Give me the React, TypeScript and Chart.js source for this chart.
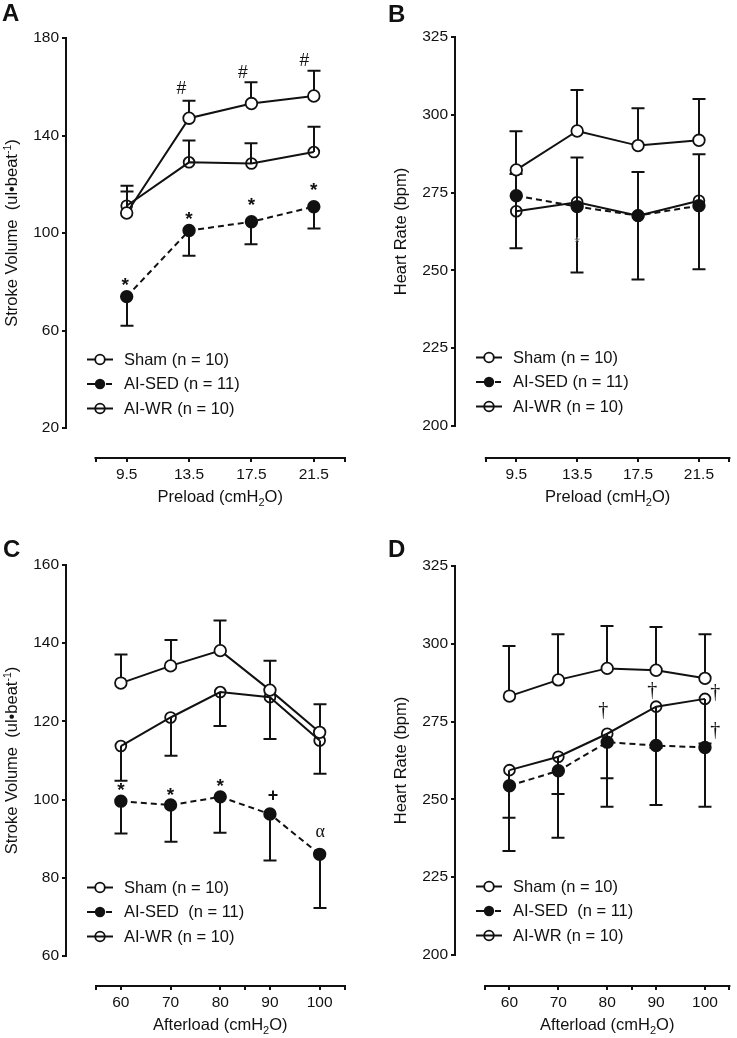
import React, { useEffect, useRef } from "react";
import { Chart, registerables } from "chart.js";

Chart.register(...registerables);

// ---------------- Data ----------------
const preload = [9.5, 13.5, 17.5, 21.5];
const afterload = [60, 70, 80, 90, 100];

// Panel A: stroke volume vs preload
const svPreSham = [108.2, 147.1, 153.1, 156.2];
const svPreShamErr = [117.0, 154.3, 161.8, 166.6];
const svPreSed = [73.9, 101.0, 104.6, 110.8];
const svPreSedErr = [62.0, 90.7, 95.4, 101.8];
const svPreWr = [111.2, 129.0, 128.5, 133.2];
const svPreWrErr = [119.4, 137.9, 136.8, 143.6];

// Panel B: heart rate vs preload
const hrPreSham = [282.3, 294.8, 290.1, 291.8];
const hrPreShamErr = [294.7, 308.0, 302.1, 305.1];
const hrPreSed = [274.0, 270.5, 267.6, 270.8];
const hrPreSedErr = [257.1, 249.3, 247.1, 250.4];
const hrPreWr = [269.0, 271.9, 267.6, 272.4];
const hrPreWrErr = [281.0, 286.3, 281.6, 287.3];

// Panel C: stroke volume vs afterload
const svAftSham = [129.8, 134.2, 138.1, 128.0, 117.2];
const svAftShamErr = [137.1, 140.8, 145.8, 135.5, 124.4];
const svAftSed = [99.6, 98.6, 100.7, 96.3, 86.0];
const svAftSedErr = [91.3, 89.2, 91.5, 84.4, 72.3];
const svAftWr = [113.7, 121.0, 127.5, 126.2, 115.1];
const svAftWrErr = [104.8, 111.2, 118.8, 115.5, 106.6];

// Panel D: heart rate vs afterload
const hrAftSham = [283.2, 288.4, 292.1, 291.5, 288.9];
const hrAftShamErr = [299.3, 303.1, 305.7, 305.4, 303.1];
const hrAftSed = [254.4, 259.2, 268.4, 267.3, 266.7];
const hrAftSedErr = [233.4, 237.7, 247.6, 248.2, 247.6];
const hrAftWr = [259.4, 263.7, 271.1, 279.8, 282.3];
const hrAftWrErr = [244.1, 251.7, 256.8, 266.6, 268.0];

// Ticks
const preloadTicks = [7.5, 9.5, 13.5, 17.5, 21.5, 23.5];
const preloadLabels = [9.5, 13.5, 17.5, 21.5];
const afterloadTicks = [55, 60, 70, 80, 85, 90, 100, 105];
const afterloadLabels = [60, 70, 80, 90, 100];
const svPreTicks = [20, 60, 100, 140, 180];
const svAftTicks = [60, 80, 100, 120, 140, 160];
const hrTicks = [200, 225, 250, 275, 300, 325];

// Legend text
const legendPre = ["Sham (n = 10)", "AI-SED (n = 11)", "AI-WR (n = 10)"];
const legendAft = ["Sham (n = 10)", "AI-SED  (n = 11)", "AI-WR (n = 10)"];

// Significance marks (anchored in data units)
const annAText = ["#", "#", "#", "*", "*", "*", "*"];
const annAX = [13.0, 16.95, 20.9, 9.4, 13.5, 17.5, 21.5];
const annAY = [159.8, 166.2, 171.0, 80.0, 107.0, 112.8, 119.0];
const annBText = ["*"];
const annBX = [13.5];
const annBY = [259.8];
const annCText = ["*", "*", "*", "+", "α"];
const annCX = [60, 70, 80, 90.6, 100.1];
const annCY = [103.3, 102.0, 104.3, 101.1, 91.5];
const annDText = ["†", "†", "†", "†"];
const annDX = [79.2, 89.2, 102.1, 102.1];
const annDY = [278.7, 284.9, 284.3, 272.1];

// ---------------- Styling ----------------
const INK = "#111111";
const SANS = '"Liberation Sans", Arial, sans-serif';
const SERIF = '"Liberation Serif", "Times New Roman", serif';

const styleMain = {
  "#": { font: `17.5px ${SANS}`, color: INK },
  "*": { font: `bold 19px ${SANS}`, color: INK },
  "+": { font: `bold 18px ${SANS}`, color: INK },
  "α": { font: `18px ${SERIF}`, color: INK },
  "†": { font: `20px ${SERIF}`, color: INK },
};
const styleB = {
  "*": { font: `15px ${SANS}`, color: "#7a7a7a" },
};

type Part = { text: string; size: number; dy: number };

const svTitle: Part[] = [
  { text: "Stroke Volume  (ul•beat", size: 16.5, dy: 0 },
  { text: "-1", size: 10.5, dy: -6.5 },
  { text: ")", size: 16.5, dy: 0 },
];
const hrTitle: Part[] = [{ text: "Heart Rate (bpm)", size: 16.5, dy: 0 }];
const preTitle: Part[] = [
  { text: "Preload (cmH", size: 16.5, dy: 0 },
  { text: "2", size: 11, dy: 4 },
  { text: "O)", size: 16.5, dy: 0 },
];
const aftTitle: Part[] = [
  { text: "Afterload (cmH", size: 16.5, dy: 0 },
  { text: "2", size: 11, dy: 4 },
  { text: "O)", size: 16.5, dy: 0 },
];

const panels = [
  {
    letter: "A", letterX: 2, letterY: 21,
    box: { left: 0, top: 0, w: 368, h: 519 },
    axisX: 67, axisY: 457, yTopPx: 38, yBotPx: 428, xStartPx: 95.5, xEndPx: 345,
    x: preload, xTicks: preloadTicks, xLabels: preloadLabels, yTicks: svPreTicks,
    series: [
      { kind: "sham", values: svPreSham, err: svPreShamErr },
      { kind: "sed", values: svPreSed, err: svPreSedErr },
      { kind: "wr", values: svPreWr, err: svPreWrErr },
    ],
    legend: legendPre, yTitle: svTitle, xTitle: preTitle,
    annText: annAText, annX: annAX, annY: annAY, annStyle: styleMain,
  },
  {
    letter: "B", letterX: 20, letterY: 22,
    box: { left: 368, top: 0, w: 369, h: 519 },
    axisX: 456, axisY: 457, yTopPx: 37, yBotPx: 426, xStartPx: 486.5, xEndPx: 735.5,
    x: preload, xTicks: preloadTicks, xLabels: preloadLabels, yTicks: hrTicks,
    series: [
      { kind: "sham", values: hrPreSham, err: hrPreShamErr },
      { kind: "sed", values: hrPreSed, err: hrPreSedErr },
      { kind: "wr", values: hrPreWr, err: hrPreWrErr },
    ],
    legend: legendPre, yTitle: hrTitle, xTitle: preTitle,
    annText: annBText, annX: annBX, annY: annBY, annStyle: styleB,
  },
  {
    letter: "C", letterX: 3, letterY: 557 - 519,
    box: { left: 0, top: 519, w: 368, h: 519 },
    axisX: 67, axisY: 985, yTopPx: 565, yBotPx: 956, xStartPx: 96, xEndPx: 344.5,
    x: afterload, xTicks: afterloadTicks, xLabels: afterloadLabels, yTicks: svAftTicks,
    series: [
      { kind: "sham", values: svAftSham, err: svAftShamErr },
      { kind: "sed", values: svAftSed, err: svAftSedErr },
      { kind: "wr", values: svAftWr, err: svAftWrErr },
    ],
    legend: legendAft, yTitle: svTitle, xTitle: aftTitle,
    annText: annCText, annX: annCX, annY: annCY, annStyle: styleMain,
  },
  {
    letter: "D", letterX: 20, letterY: 557 - 519,
    box: { left: 368, top: 519, w: 369, h: 519 },
    axisX: 456, axisY: 985, yTopPx: 566, yBotPx: 955, xStartPx: 485.7, xEndPx: 735.7,
    x: afterload, xTicks: afterloadTicks, xLabels: afterloadLabels, yTicks: hrTicks,
    series: [
      { kind: "sham", values: hrAftSham, err: hrAftShamErr },
      { kind: "sed", values: hrAftSed, err: hrAftSedErr },
      { kind: "wr", values: hrAftWr, err: hrAftWrErr },
    ],
    legend: legendAft, yTitle: hrTitle, xTitle: aftTitle,
    annText: annDText, annX: annDX, annY: annDY, annStyle: styleMain,
  },
];

function drawRich(ctx: CanvasRenderingContext2D, parts: Part[], cx: number, baseY: number) {
  const widths = parts.map((pt) => {
    ctx.font = `${pt.size}px ${SANS}`;
    return ctx.measureText(pt.text).width;
  });
  const total = widths.reduce((a, b) => a + b, 0);
  let x = cx - total / 2;
  ctx.textAlign = "left";
  ctx.textBaseline = "alphabetic";
  parts.forEach((pt, i) => {
    ctx.font = `${pt.size}px ${SANS}`;
    ctx.fillText(pt.text, x, baseY + pt.dy);
    x += widths[i];
  });
}

function makeDecor(p: any) {
  return {
    id: "decor" + p.letter,
    beforeDatasetsDraw(chart: any) {
      const { ctx } = chart;
      const xs = chart.scales.x;
      const ys = chart.scales.y;
      ctx.save();
      ctx.strokeStyle = INK;
      ctx.lineWidth = 2;
      ctx.lineCap = "butt";
      p.series.forEach((s: any) => {
        p.x.forEach((xv: number, i: number) => {
          const e = s.err[i];
          if (e == null) return;
          const px = Math.round(xs.getPixelForValue(xv));
          const py0 = ys.getPixelForValue(s.values[i]);
          const py1 = ys.getPixelForValue(e);
          ctx.beginPath();
          ctx.moveTo(px, py0);
          ctx.lineTo(px, py1);
          ctx.moveTo(px - 6.5, py1);
          ctx.lineTo(px + 6.5, py1);
          ctx.stroke();
        });
      });
      ctx.restore();
    },
    afterDraw(chart: any) {
      const { ctx, chartArea } = chart;
      const xs = chart.scales.x;
      const ys = chart.scales.y;
      const cl = p.box.left;
      const ct = p.box.top;
      ctx.save();
      // axis lines
      ctx.strokeStyle = INK;
      ctx.lineWidth = 2;
      ctx.lineCap = "square";
      const ax = Math.round(chartArea.left) - 1;
      ctx.beginPath();
      ctx.moveTo(ax, ys.getPixelForValue(p.yTicks[0]));
      ctx.lineTo(ax, ys.getPixelForValue(p.yTicks[p.yTicks.length - 1]));
      ctx.stroke();
      const ay = Math.round(chartArea.bottom) + 1;
      ctx.beginPath();
      ctx.moveTo(xs.getPixelForValue(p.xTicks[0]), ay);
      ctx.lineTo(xs.getPixelForValue(p.xTicks[p.xTicks.length - 1]), ay);
      ctx.stroke();

      ctx.fillStyle = INK;
      // y title (rotated)
      const yMid = (ys.getPixelForValue(p.yTicks[0]) + ys.getPixelForValue(p.yTicks[p.yTicks.length - 1])) / 2;
      ctx.save();
      ctx.translate(p.axisX - cl - 55.5, yMid);
      ctx.rotate(-Math.PI / 2);
      drawRich(ctx, p.yTitle, 0, 16.5 * 0.36);
      ctx.restore();
      // x title
      const xMid = (xs.getPixelForValue(p.xTicks[0]) + xs.getPixelForValue(p.xTicks[p.xTicks.length - 1])) / 2;
      drawRich(ctx, p.xTitle, xMid, p.axisY - ct + 45);

      // panel letter
      ctx.font = `bold 24px ${SANS}`;
      ctx.textAlign = "left";
      ctx.textBaseline = "alphabetic";
      ctx.fillText(p.letter, p.letterX, p.letterY);

      // legend
      const legTop = ys.getPixelForValue(p.yTicks[0]) - 68.5;
      const symX = p.axisX - cl + 33;
      const txtX = p.axisX - cl + 57;
      p.series.forEach((s: any, i: number) => {
        const cy = legTop + i * 24.5;
        ctx.strokeStyle = INK;
        ctx.lineWidth = 2;
        ctx.lineCap = "butt";
        if (s.kind === "sed") {
          ctx.beginPath();
          ctx.moveTo(symX - 13, cy);
          ctx.lineTo(symX, cy);
          ctx.moveTo(symX + 6, cy);
          ctx.lineTo(symX + 12, cy);
          ctx.stroke();
          ctx.beginPath();
          ctx.arc(symX, cy, 5.2, 0, Math.PI * 2);
          ctx.fillStyle = INK;
          ctx.fill();
        } else {
          ctx.beginPath();
          ctx.moveTo(symX - 13, cy);
          ctx.lineTo(symX + 13, cy);
          ctx.stroke();
          ctx.beginPath();
          ctx.arc(symX, cy, 4.8, 0, Math.PI * 2);
          if (s.kind === "sham") {
            ctx.fillStyle = "#ffffff";
            ctx.fill();
          }
          ctx.lineWidth = 1.8;
          ctx.stroke();
        }
        ctx.fillStyle = INK;
        ctx.font = `16.5px ${SANS}`;
        ctx.textAlign = "left";
        ctx.textBaseline = "middle";
        ctx.fillText(p.legend[i], txtX, cy + 0.5);
      });

      // significance marks
      p.annText.forEach((t: string, i: number) => {
        const st = p.annStyle[t];
        ctx.font = st.font;
        ctx.fillStyle = st.color;
        ctx.textAlign = "center";
        ctx.textBaseline = "alphabetic";
        const m = ctx.measureText(t);
        const px = xs.getPixelForValue(p.annX[i]);
        const py = ys.getPixelForValue(p.annY[i]);
        ctx.fillText(t, px, py + (m.actualBoundingBoxAscent - m.actualBoundingBoxDescent) / 2);
      });
      ctx.restore();
    },
  };
}

function buildConfig(p: any) {
  const cl = p.box.left;
  const ct = p.box.top;
  const axisX = p.axisX - cl;
  const axisY = p.axisY - ct;
  const yTop = p.yTopPx - ct;
  const yBot = p.yBotPx - ct;
  const xS = p.xStartPx - cl;
  const xE = p.xEndPx - cl;
  const xFirst = p.xTicks[0];
  const xLast = p.xTicks[p.xTicks.length - 1];
  const ux = (xLast - xFirst) / (xE - xS);
  const xMin = xFirst - (xS - axisX) * ux;
  const yMaxV = p.yTicks[p.yTicks.length - 1];
  const yMinV = p.yTicks[0];
  const uy = (yMaxV - yMinV) / (yBot - yTop);
  const yMin = yMinV - (axisY - yBot) * uy;

  const base = {
    borderColor: INK,
    borderWidth: 2,
    pointRadius: 5.8,
    pointBorderWidth: 1.8,
    pointBorderColor: INK,
    pointHoverRadius: 5.8,
    tension: 0,
    fill: false,
    showLine: true,
    clip: false,
  };
  const styles: any = {
    sham: { ...base, pointBackgroundColor: "#ffffff", label: "Sham" },
    sed: { ...base, borderDash: [6, 4], pointBackgroundColor: INK, label: "AI-SED" },
    wr: { ...base, pointRadius: 5.4, pointHoverRadius: 5.4, pointBackgroundColor: "rgba(255,255,255,0)", label: "AI-WR" },
  };
  const datasets = p.series.map((s: any) => ({
    ...styles[s.kind],
    data: p.x.map((xv: number, i: number) => ({ x: xv, y: s.values[i] })),
  }));

  const tickFont = { family: SANS, size: 15.5 };
  return {
    type: "line",
    data: { datasets },
    plugins: [makeDecor(p)],
    options: {
      responsive: false,
      animation: false,
      events: [],
      layout: {
        padding: { left: 0, top: yTop, right: p.box.w - xE, bottom: 0 },
      },
      plugins: { legend: { display: false }, tooltip: { enabled: false } },
      scales: {
        x: {
          type: "linear",
          min: xMin,
          max: xLast,
          afterBuildTicks: (s: any) => {
            s.ticks = p.xTicks.map((v: number) => ({ value: v }));
          },
          afterFit: (s: any) => {
            s.height = p.box.h - axisY;
          },
          border: { display: false },
          grid: {
            display: true,
            drawOnChartArea: false,
            drawTicks: true,
            tickLength: 5,
            lineWidth: 2,
            color: INK,
            tickColor: INK,
          },
          ticks: {
            autoSkip: false,
            maxRotation: 0,
            padding: 3,
            color: INK,
            font: tickFont,
            callback: (v: number) => (p.xLabels.includes(v) ? String(v) : ""),
          },
        },
        y: {
          type: "linear",
          min: yMin,
          max: yMaxV,
          afterBuildTicks: (s: any) => {
            s.ticks = p.yTicks.map((v: number) => ({ value: v }));
          },
          afterFit: (s: any) => {
            s.width = axisX;
          },
          border: { display: false },
          grid: {
            display: true,
            drawOnChartArea: false,
            drawTicks: true,
            tickLength: 5,
            lineWidth: 2,
            color: INK,
            tickColor: INK,
          },
          ticks: {
            padding: 3,
            color: INK,
            font: tickFont,
            callback: (v: number) => String(v),
          },
        },
      },
    },
  };
}

function Panel({ p }: { p: any }) {
  const ref = useRef<HTMLCanvasElement>(null);
  useEffect(() => {
    const chart = new Chart(ref.current as HTMLCanvasElement, buildConfig(p) as any);
    return () => chart.destroy();
  }, [p]);
  return (
    <canvas
      ref={ref}
      width={p.box.w}
      height={p.box.h}
      style={{
        position: "absolute",
        left: p.box.left,
        top: p.box.top,
        width: p.box.w,
        height: p.box.h,
      }}
    />
  );
}

export default function App() {
  return (
    <div
      style={{
        position: "absolute",
        left: 0,
        top: 0,
        width: 737,
        height: 1038,
        background: "#ffffff",
        overflow: "hidden",
      }}
    >
      {panels.map((p) => (
        <Panel key={p.letter} p={p} />
      ))}
    </div>
  );
}
